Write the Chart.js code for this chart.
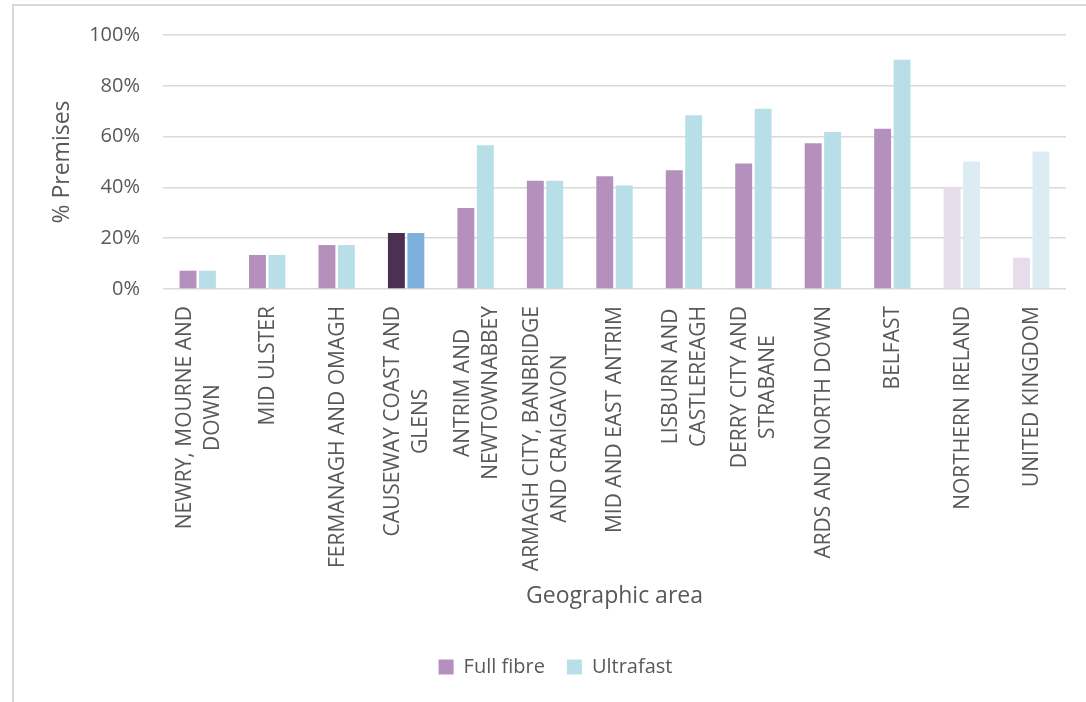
<!DOCTYPE html>
<html>
<head>
<meta charset="utf-8">
<script src="https://cdn.jsdelivr.net/npm/chart.js@4"></script>
<style>
    body { margin: 0; background: #ffffff; }
    #wrap { position: relative; width: 1086px; height: 702px; overflow: hidden; }
    #frame {
        position: absolute; left: 12px; top: 4px; width: 1100px; height: 720px;
        border-left: 2px solid #d9d9d9; border-top: 2px solid #d9d9d9;
    }
    #chart { position: absolute; left: 0; top: 0; }
</style>
</head>
<body>
<div id="wrap">
    <div id="frame"></div>
    <canvas id="chart" width="1086" height="702"></canvas>
</div>
<script>
// Áreas (etiquetas en varias líneas)
const areas = [
    ['NEWRY, MOURNE AND', 'DOWN'],
    ['MID ULSTER'],
    ['FERMANAGH AND OMAGH'],
    ['CAUSEWAY COAST AND', 'GLENS'],
    ['ANTRIM AND', 'NEWTOWNABBEY'],
    ['ARMAGH CITY, BANBRIDGE', 'AND CRAIGAVON'],
    ['MID AND EAST ANTRIM'],
    ['LISBURN AND', 'CASTLEREAGH'],
    ['DERRY CITY AND', 'STRABANE'],
    ['ARDS AND NORTH DOWN'],
    ['BELFAST'],
    ['NORTHERN IRELAND'],
    ['UNITED KINGDOM']
];

// Porcentaje de locales
const fullFibre = [7.2, 13.4, 17.3, 22.0, 31.9, 42.6, 44.4, 46.8, 49.4, 57.4, 63.1, 40.1, 12.3];
const ultrafast = [7.2, 13.4, 17.3, 22.0, 56.6, 42.6, 40.7, 68.4, 71.0, 61.8, 90.3, 50.2, 54.1];

const yTicks = [0, 20, 40, 60, 80, 100];

const TEXT = '#595959';
const FONT = "'Open Sans', sans-serif";

// Colores: Causeway resaltado, NI y UK atenuados
function coloresFibra(i) {
    if (i === 3) return '#4b3052';
    if (i >= 11) return '#e7dcea';
    return '#b590bc';
}
function coloresUltra(i) {
    if (i === 3) return '#7eb0de';
    if (i >= 11) return '#dbedf3';
    return '#b8dee8';
}

/**
 * Dibuja las etiquetas del eje X giradas, con las líneas centradas entre sí
 */
const etiquetasX = {
    id: 'etiquetasX',
    afterDraw(chart) {
        const ctx = chart.ctx;
        const x = chart.scales.x;
        const top = x.top + 17;
        const lineGap = 28;
        ctx.save();
        ctx.font = "21px " + FONT;
        ctx.fillStyle = TEXT;
        ctx.textAlign = 'center';
        ctx.textBaseline = 'middle';
        chart.data.labels.forEach((lines, i) => {
            const px = x.getPixelForTick(i);
            const maxW = Math.max(...lines.map(l => ctx.measureText(l).width));
            const cy = top + maxW / 2;
            lines.forEach((line, j) => {
                const lx = px + (j - (lines.length - 1) / 2) * lineGap;
                ctx.save();
                ctx.translate(lx, cy);
                ctx.rotate(-Math.PI / 2);
                ctx.fillText(line, 0, 1);
                ctx.restore();
            });
        });
        ctx.restore();
    }
};

const ctx = document.getElementById('chart').getContext('2d');
new Chart(ctx, {
    type: 'bar',
    data: {
        labels: areas,
        datasets: [{
            label: 'Full fibre',
            data: fullFibre,
            backgroundColor: fullFibre.map((v, i) => coloresFibra(i)),
            borderWidth: 0,
            categoryPercentage: 0.56,
            barPercentage: 0.87
        }, {
            label: 'Ultrafast',
            data: ultrafast,
            backgroundColor: ultrafast.map((v, i) => coloresUltra(i)),
            borderWidth: 0,
            categoryPercentage: 0.56,
            barPercentage: 0.87
        }]
    },
    options: {
        responsive: false,
        animation: false,
        layout: {
            padding: { top: 34, right: 20, left: 45, bottom: 15 }
        },
        scales: {
            x: {
                grid: { display: false },
                border: { display: false },
                ticks: { display: false },
                title: {
                    display: true,
                    text: 'Geographic area',
                    color: TEXT,
                    font: { family: FONT, size: 23 },
                    padding: { top: 4, bottom: 25 }
                },
                afterFit(scale) { scale.height = 346; }
            },
            y: {
                min: 0,
                max: 100,
                afterBuildTicks(scale) {
                    scale.ticks = yTicks.map(v => ({ value: v }));
                },
                grid: { color: '#d9d9d9', lineWidth: 1.5, drawTicks: false },
                border: { display: false },
                ticks: {
                    color: TEXT,
                    font: { family: FONT, size: 20 },
                    padding: 23,
                    callback: v => v + '%'
                },
                title: {
                    display: true,
                    text: '% Premises',
                    color: TEXT,
                    font: { family: FONT, size: 23 },
                    padding: { top: 4, bottom: 4 }
                },
                afterFit(scale) { scale.width = 118; }
            }
        },
        plugins: {
            tooltip: { enabled: false },
            legend: {
                position: 'bottom',
                labels: {
                    color: TEXT,
                    font: { family: FONT, size: 20 },
                    boxWidth: 15,
                    boxHeight: 15,
                    padding: 22,
                    generateLabels(chart) {
                        return [
                            { text: 'Full fibre', fillStyle: '#b590bc', strokeStyle: '#b590bc', lineWidth: 0, fontColor: TEXT, datasetIndex: 0 },
                            { text: 'Ultrafast', fillStyle: '#b8dee8', strokeStyle: '#b8dee8', lineWidth: 0, fontColor: TEXT, datasetIndex: 1 }
                        ];
                    }
                }
            }
        }
    },
    plugins: [etiquetasX]
});
</script>
</body>
</html>
